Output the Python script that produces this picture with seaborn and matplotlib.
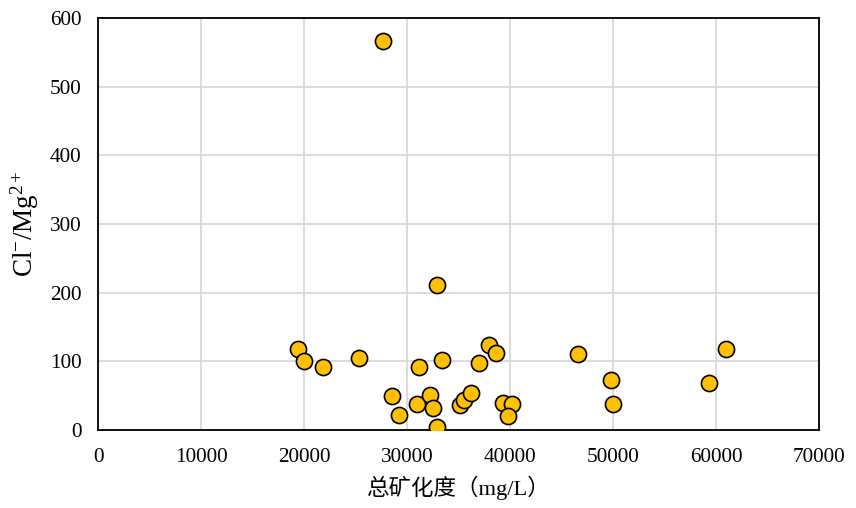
import matplotlib
matplotlib.use("Agg")
import matplotlib.pyplot as plt
import seaborn as sns
import pandas as pd

# Total dissolved solids (mg/L) and Cl-/Mg2+ ratio for each sample
tds = [27690, 32900,
       19460, 19970, 21880, 25300, 31170, 33370, 37000, 37920, 38620,
       28590, 29260, 31000, 32200, 32560, 32880, 35140, 35550, 36200,
       39330, 40200, 39790,
       46560, 49820, 49980, 59310, 61010]
ratio = [567, 211,
         118, 100, 91.6, 105, 91.6, 102, 97, 123.6, 112,
         49.9, 21.8, 37.3, 50.4, 32, 3.9, 36.8, 43.6, 53.3,
         40, 37.3, 20.8,
         110.5, 73, 37.3, 68.3, 117.7]

x_ticks = [0, 10000, 20000, 30000, 40000, 50000, 60000, 70000]
y_ticks = [0, 100, 200, 300, 400, 500, 600]

df = pd.DataFrame({"tds": tds, "ratio": ratio})

sns.set_theme(style="white")
plt.rcParams["font.family"] = ["Liberation Serif", "Noto Sans CJK SC"]
plt.rcParams["mathtext.fontset"] = "custom"
plt.rcParams["mathtext.rm"] = "Liberation Serif"
plt.rcParams["mathtext.it"] = "Liberation Serif:italic"
plt.rcParams["text.color"] = "black"
plt.rcParams["axes.labelcolor"] = "black"
plt.rcParams["xtick.color"] = "black"
plt.rcParams["ytick.color"] = "black"

fig = plt.figure(figsize=(8.56, 5.08), dpi=100)
ax = fig.add_axes([98 / 856, 1 - 430 / 508, (819 - 98) / 856, (430 - 18) / 508])

sns.scatterplot(data=df, x="tds", y="ratio", ax=ax, s=135, color="#FFC000",
                edgecolor="black", linewidth=1.2, zorder=3, legend=False)

ax.set_xlim(0, 70000)
ax.set_ylim(0, 600)
ax.set_xticks(x_ticks)
ax.set_yticks(y_ticks)
ax.set_xticklabels([str(v) for v in x_ticks], fontsize=15.3)
ax.set_yticklabels([str(v) for v in y_ticks], fontsize=15.3)
ax.tick_params(axis="x", length=0, pad=13)
ax.tick_params(axis="y", length=0, pad=12)

ax.grid(True, color="#D9D9D9", linewidth=1.3, zorder=0)
ax.set_axisbelow(True)
for sp in ax.spines.values():
    sp.set_visible(True)
    sp.set_color("black")
    sp.set_linewidth(1.3)

ax.set_xlabel("总矿化度（mg/L）", fontsize=16.2, labelpad=6)
ax.set_ylabel(r"Cl$^{-}$/Mg$^{2+}$", fontsize=19.5, labelpad=6)

fig.savefig("out.png", dpi=100)
